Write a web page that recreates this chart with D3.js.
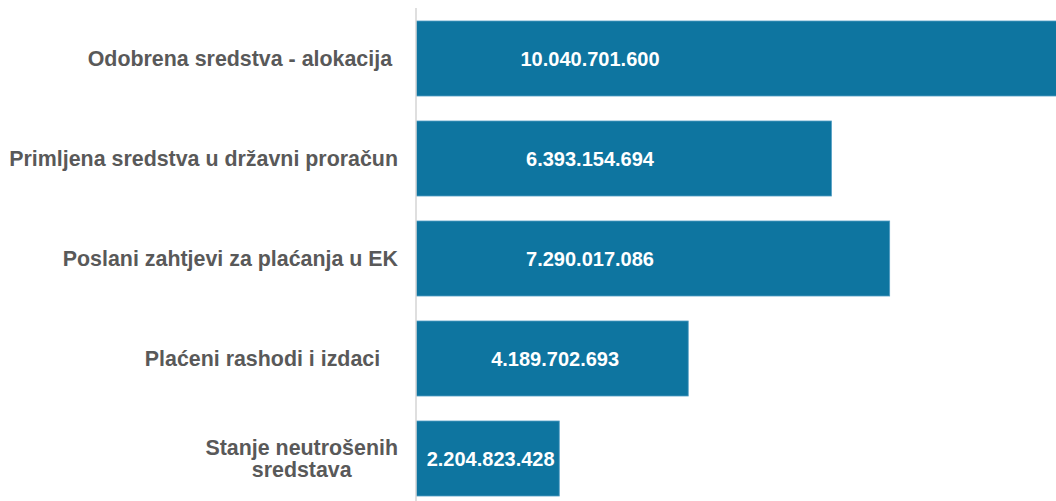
<!DOCTYPE html>
<html>
<head>
<meta charset="utf-8">
<script src="https://cdn.jsdelivr.net/npm/d3@7"></script>
<style>
  body { margin: 0; background: #fff; }
  svg { display: block; font-family: "Liberation Sans", Arial, sans-serif; }
</style>
</head>
<body>
<div id="chart"></div>
<script>
// categories and values
var categories = [
    "Odobrena sredstva - alokacija ",
    "Primljena sredstva u državni proračun",
    "Poslani zahtjevi za plaćanja u EK",
    "Plaćeni rashodi i izdaci   ",
    "Stanje neutrošenih|sredstava"
];
var values = [10040701600, 6393154694, 7290017086, 4189702693, 2204823428];
var valueLabels = ["10.040.701.600", "6.393.154.694", "7.290.017.086", "4.189.702.693", "2.204.823.428"];

var data = categories.map(function (c, i) {
    return { key: c, value: values[i], label: valueLabels[i] };
});

var w = 1056, h = 501,
    margin = { top: 8, right: 0, bottom: 0, left: 416 };
var width = w - margin.left - margin.right;

var svg = d3.select("#chart").append("svg")
    .attr("width", w)
    .attr("height", h);

// first bar runs past the right edge in the original, so the scale max is below it
var x = d3.scaleLinear().domain([0, 9.85e9]).range([0, width]);
var y = d3.scaleBand().domain(categories).range([8.5, 508.5]).paddingInner(0.25).paddingOuter(0.125);

svg.append("clipPath").attr("id", "clip")
    .append("rect").attr("x", 0).attr("y", 0).attr("width", width).attr("height", h);

var g = svg.append("g")
    .attr("transform", "translate(" + margin.left + ",0)");

// bars
g.append("g").attr("clip-path", "url(#clip)")
    .selectAll(".bar")
    .data(data)
    .enter().append("rect")
    .attr("class", "bar")
    .attr("x", 0)
    .attr("y", function (d) { return y(d.key); })
    .attr("width", function (d) { return x(d.value); })
    .attr("height", y.bandwidth())
    .style("fill", "#0e75a0")
    .style("stroke", "#4f9cc3")
    .style("stroke-width", 0.8);

// value labels
var labelX = 174;
g.selectAll(".val")
    .data(data)
    .enter().append("text")
    .attr("class", "val")
    .attr("x", function (d) { return Math.min(labelX, Math.min(x(d.value), width) / 2 + 3); })
    .attr("y", function (d) { return y(d.key) + y.bandwidth() / 2; })
    .attr("dy", "0.35em")
    .attr("text-anchor", "middle")
    .style("fill", "#fff")
    .style("font-weight", "bold")
    .style("font-size", "20px")
    .text(function (d) { return d.label; });

// axis line
g.append("line")
    .attr("x1", 0).attr("x2", 0)
    .attr("y1", margin.top).attr("y2", h)
    .style("stroke", "#d4d4d4")
    .style("stroke-width", 1.5);

// category labels
var labelRight = 398;
var cats = svg.append("g").selectAll(".cat")
    .data(data)
    .enter().append("text")
    .attr("class", "cat")
    .style("fill", "#595959")
    .style("font-weight", "bold")
    .style("font-size", "21.4px")
    .style("white-space", "pre");

cats.each(function (d) {
    var t = d3.select(this);
    var lines = d.key.split("|");
    var cy = y(d.key) + y.bandwidth() / 2;
    if (lines.length === 1) {
        t.attr("x", labelRight).attr("y", cy).attr("dy", "0.35em")
            .attr("text-anchor", "end").text(lines[0]);
    } else {
        var lh = 22;
        var spans = t.selectAll("tspan").data(lines).enter().append("tspan")
            .attr("y", function (l, i) { return cy + (i - (lines.length - 1) / 2) * lh; })
            .attr("dy", "0.35em")
            .text(function (l) { return l; });
        var maxW = 0;
        spans.each(function () { maxW = Math.max(maxW, this.getComputedTextLength()); });
        spans.attr("x", labelRight - maxW / 2);
        t.attr("text-anchor", "middle");
    }
});
</script>
</body>
</html>
